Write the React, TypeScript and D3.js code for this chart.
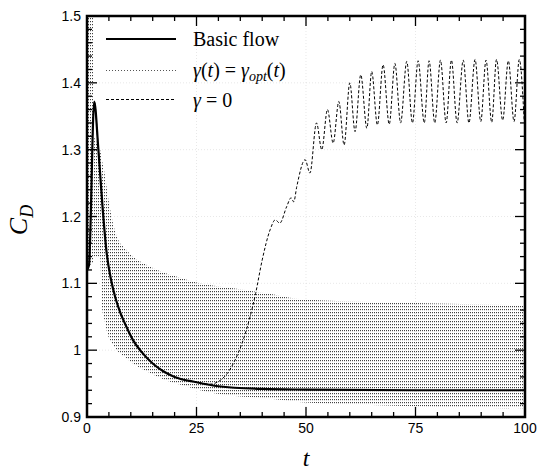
import React, { useEffect } from 'react';
import * as d3 from 'd3';

// basic flow (solid)
const basicT = [0, 0.45, 1.65, 2.6, 3.6, 4.5, 5.5, 6.5, 7.5, 9, 10.5, 12.5, 15, 17.5, 20, 25, 30, 40, 50, 75, 100];
const basicCd = [1.12, 1.127, 1.372, 1.30, 1.21, 1.145, 1.105, 1.078, 1.058, 1.035, 1.015, 0.997, 0.98, 0.968, 0.96, 0.952, 0.946, 0.942, 0.941, 0.94, 0.94];

// gamma = 0 (dashed), extrema
const zeroT = [0, 0.45, 1.65, 2.6, 3.6, 4.5, 5.5, 6.5, 7.5, 9, 10.5, 12.5, 15, 17.5, 20, 25, 28, 30, 32, 34, 36, 38.5, 40, 41.8, 43, 44, 45.6, 46.6, 47.2, 47.9,
  49.8, 50.9, 52.4, 53.6, 54.9, 56.2, 57.5, 58.7, 60, 61.2, 62.5, 63.9, 65, 66.3, 67.6, 69, 70.3, 71.6, 73, 74.3, 75.6, 77,
  78.1, 79.4, 80.7, 82, 83.2, 84.5, 85.9, 87.2, 88.6, 89.9, 91.1, 92.4, 93.5, 94.9, 96.2, 97.5, 98.7, 99.8];
const zeroCd = [1.12, 1.127, 1.372, 1.30, 1.21, 1.145, 1.105, 1.078, 1.058, 1.035, 1.015, 0.997, 0.98, 0.968, 0.96, 0.952, 0.949, 0.953, 0.965, 0.988, 1.022, 1.085, 1.135, 1.18, 1.195, 1.19, 1.215, 1.228, 1.222, 1.245,
  1.285, 1.265, 1.34, 1.30, 1.36, 1.31, 1.372, 1.307, 1.40, 1.327, 1.412, 1.332, 1.417, 1.337, 1.427, 1.338, 1.429, 1.34, 1.432, 1.34, 1.433, 1.34,
  1.433, 1.34, 1.434, 1.34, 1.434, 1.34, 1.434, 1.34, 1.435, 1.342, 1.434, 1.341, 1.435, 1.344, 1.433, 1.342, 1.435, 1.345];

// gamma_opt (dotted), too dense to trace: upper / lower envelope of the band
const bandT = [0, 1.5, 1.6, 2.3, 3, 3.4, 4, 4.9, 5.3, 6.8, 9, 10.5, 14.4, 18, 22, 25.8, 33, 41, 49, 65, 80, 100];
const bandUpper = [1.55, 1.55, 1.32, 1.31, 1.30, 1.285, 1.265, 1.225, 1.21, 1.17, 1.15, 1.14, 1.125, 1.115, 1.107, 1.10, 1.093, 1.085, 1.076, 1.072, 1.07, 1.067];
const bandLower = [1.127, 1.13, 1.14, 1.14, 1.14, 1.065, 1.045, 1.02, 1.015, 1.0, 0.988, 0.98, 0.966, 0.955, 0.947, 0.94, 0.932, 0.928, 0.922, 0.918, 0.915, 0.913];

const xMajor = [0, 25, 50, 75, 100];
const xLabels = ['0', '25', '50', '75', '100'];
const yMajor = [0.9, 1.0, 1.1, 1.2, 1.3, 1.4, 1.5];
const yLabels = ['0.9', '1', '1.1', '1.2', '1.3', '1.4', '1.5'];

const W = 540, H = 472;
const L = 87, R = 525, T = 16, B = 417;

const sans = { fontFamily: '"Liberation Sans", Arial, sans-serif' };
const serif = { fontFamily: '"Liberation Serif"' };

export default function App() {
  useEffect(() => { document.body.style.margin = '0'; }, []);

  const x = d3.scaleLinear().domain([0, 100]).range([L, R]);
  const y = d3.scaleLinear().domain([0.9, 1.5]).range([B, T]);

  const xMinor = d3.range(0, 101, 5);
  const yMinor = d3.range(0, 31).map(i => 0.9 + i * 0.02);

  const mk = (ts: number[], vs: number[]) =>
    d3.line<number>().x((_, i) => x(ts[i])).y(v => y(v)).curve(d3.curveMonotoneX)(vs) || '';
  const band = d3.area<number>()
    .x((_, i) => x(bandT[i]))
    .y0((_, i) => y(bandLower[i]))
    .y1(v => y(v))
    .curve(d3.curveMonotoneX)(bandUpper) || '';

  return (
    <svg width={W} height={H} style={{ display: 'block', background: '#fff' }}>
      <defs>
        <clipPath id="plot"><rect x={L} y={T} width={R - L} height={B - T} /></clipPath>
        <pattern id="dots" width={2} height={3} patternUnits="userSpaceOnUse">
          <rect x={0} y={0} width={1} height={1.2} fill="#111" />
        </pattern>
      </defs>

      {/* faint grid */}
      <g stroke="#d8d8d8" strokeWidth={0.6} strokeDasharray="1 2">
        {xMajor.slice(1, -1).map(v => <line key={'gx' + v} x1={x(v)} x2={x(v)} y1={T} y2={B} />)}
        {yMajor.slice(1, -1).map(v => <line key={'gy' + v} x1={L} x2={R} y1={y(v)} y2={y(v)} />)}
      </g>

      <g clipPath="url(#plot)">
        <path d={band} fill="url(#dots)" opacity={0.8} />
        <path d={mk(zeroT, zeroCd)} fill="none" stroke="#000" strokeWidth={1} strokeDasharray="3 2" />
        <path d={mk(basicT, basicCd)} fill="none" stroke="#000" strokeWidth={2.2} />
      </g>

      {/* ticks */}
      <g stroke="#000" strokeWidth={1.3}>
        {xMinor.map(v => {
          const len = xMajor.includes(v) ? 10 : 5;
          return <g key={'xt' + v}>
            <line x1={x(v)} x2={x(v)} y1={B} y2={B - len} />
            <line x1={x(v)} x2={x(v)} y1={T} y2={T + len} />
          </g>;
        })}
        {yMinor.map((v, i) => {
          const len = i % 5 === 0 ? 10 : 5;
          return <g key={'yt' + i}>
            <line x1={L} x2={L + len} y1={y(v)} y2={y(v)} />
            <line x1={R} x2={R - len} y1={y(v)} y2={y(v)} />
          </g>;
        })}
      </g>
      <rect x={L} y={T} width={R - L} height={B - T} fill="none" stroke="#000" strokeWidth={2.5} />

      {/* tick labels */}
      {xMajor.map((v, i) => (
        <text key={'xl' + v} x={x(v)} y={B + 16} textAnchor="middle" fontSize={14} style={sans}>{xLabels[i]}</text>
      ))}
      {yMajor.map((v, i) => (
        <text key={'yl' + v} x={L - 6} y={y(v) + 5} textAnchor="end" fontSize={14} style={sans}>{yLabels[i]}</text>
      ))}

      {/* axis titles */}
      <text x={306} y={466} fontSize={24} textAnchor="middle" style={serif}>
        <tspan fontStyle="italic">t</tspan>
      </text>
      <text transform="translate(27,220) rotate(-90)" fontSize={26} textAnchor="middle" style={serif}>
        <tspan fontStyle="italic">C</tspan>
        <tspan fontStyle="italic" fontSize={18} dy={6}>D</tspan>
      </text>

      {/* legend */}
      <line x1={106} x2={176} y1={39} y2={39} stroke="#000" strokeWidth={2.2} />
      <line x1={106} x2={176} y1={70.5} y2={70.5} stroke="#555" strokeWidth={1} strokeDasharray="1 2" />
      <line x1={106} x2={176} y1={99.5} y2={99.5} stroke="#000" strokeWidth={1} strokeDasharray="3 2" />
      <text x={193} y={46} fontSize={20} style={serif}>Basic flow</text>
      <text x={193} y={77} fontSize={20} style={serif}>
        <tspan fontStyle="italic">γ</tspan>(<tspan fontStyle="italic">t</tspan>) = <tspan fontStyle="italic">γ</tspan>
        <tspan fontStyle="italic" fontSize={14} dy={4}>opt</tspan>
        <tspan dy={-4}>(</tspan><tspan fontStyle="italic">t</tspan>)
      </text>
      <text x={193} y={107} fontSize={20} style={serif}>
        <tspan fontStyle="italic">γ</tspan> = 0
      </text>
    </svg>
  );
}
